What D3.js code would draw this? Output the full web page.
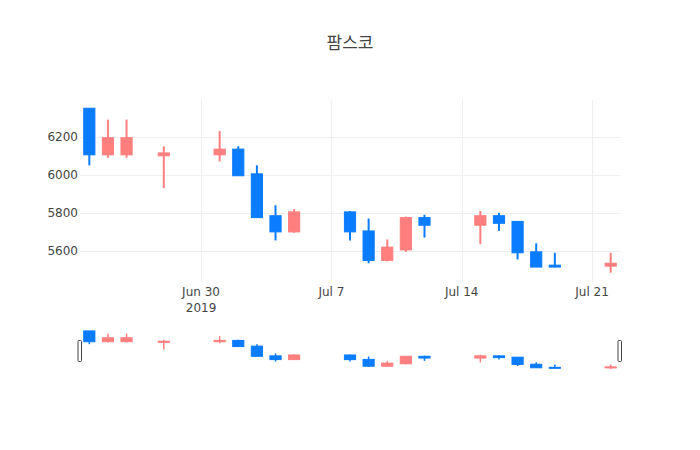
<!DOCTYPE html>
<meta charset="utf-8">
<style>
body { margin: 0; background: #fff; }
text {
  font-family: "DejaVu Sans", verdana, "Noto Sans CJK KR", arial, sans-serif;
  fill: #444;
}
.grid line { stroke: #eee; stroke-width: 1px; shape-rendering: crispEdges; }
</style>
<body>
<script src="https://d3js.org/d3.v7.min.js" charset="utf-8"></script>
<script>

// daily prices
var dates = ["2019-06-24", "2019-06-25", "2019-06-26", "2019-06-28", "2019-07-01",
             "2019-07-02", "2019-07-03", "2019-07-04", "2019-07-05", "2019-07-08",
             "2019-07-09", "2019-07-10", "2019-07-11", "2019-07-12", "2019-07-15",
             "2019-07-16", "2019-07-17", "2019-07-18", "2019-07-19", "2019-07-22"];
var opens  = [6350, 6105, 6105, 6100, 6105, 6135, 6005, 5785, 5700, 5805,
              5705, 5550, 5605, 5775, 5735, 5785, 5755, 5595, 5525, 5520];
var highs  = [6350, 6290, 6290, 6150, 6230, 6150, 6050, 5840, 5820, 5810,
              5770, 5660, 5780, 5790, 5810, 5800, 5755, 5640, 5590, 5590];
var lows   = [6050, 6090, 6090, 5930, 6070, 5995, 5775, 5655, 5695, 5655,
              5535, 5545, 5595, 5670, 5635, 5705, 5555, 5515, 5515, 5485];
var closes = [6105, 6195, 6195, 6115, 6135, 5995, 5775, 5700, 5805, 5700,
              5550, 5620, 5775, 5735, 5785, 5745, 5590, 5515, 5515, 5535];

var xTickDates = ["2019-06-30", "2019-07-07", "2019-07-14", "2019-07-21"];
var xTickLabels = [["Jun 30", "2019"], ["Jul 7"], ["Jul 14"], ["Jul 21"]];
var yTicks = [5600, 5800, 6000, 6200];
var title = "팜스코";

var incColor = "#ff7f7f",
    decColor = "#0a7cff";

var width = 700,
    height = 450;
var plot = { left: 80, right: 620, top: 100, bottom: 281 };
var slider = { top: 329, bottom: 371 };

var parse = d3.utcParse("%Y-%m-%d");
var DAY = 864e5;

var candles = dates.map((d, i) => ({
  date: parse(d), open: opens[i], high: highs[i], low: lows[i], close: closes[i]
}));

var svg = d3.select("body").append("svg")
    .attr("width", width)
    .attr("height", height);

// x domain padded by half a day each side, like plotly does for candlesticks
var xExt = d3.extent(candles, d => d.date);
var x = d3.scaleUtc()
    .domain([new Date(+xExt[0] - DAY / 2), new Date(+xExt[1] + DAY / 2)])
    .range([plot.left, plot.right]);

var lo = d3.min(lows), hi = d3.max(highs), pad = (hi - lo) * 0.05;
var y = d3.scaleLinear()
    .domain([lo - pad, hi + pad])
    .range([plot.bottom, plot.top]);

var ySl = d3.scaleLinear()
    .domain([lo - pad, hi + pad])
    .range([slider.bottom, slider.top]);

// gridlines
var grid = svg.append("g").attr("class", "grid");
grid.selectAll("line.h")
    .data(yTicks)
  .enter()
    .append("line")
    .attr("class", "h")
    .attr("x1", plot.left).attr("x2", plot.right)
    .attr("y1", d => Math.round(y(d)) + 0.5)
    .attr("y2", d => Math.round(y(d)) + 0.5);
grid.selectAll("line.v")
    .data(xTickDates.map(parse))
  .enter()
    .append("line")
    .attr("class", "v")
    .attr("y1", plot.top).attr("y2", plot.bottom)
    .attr("x1", d => Math.round(x(d)) + 0.5)
    .attr("x2", d => Math.round(x(d)) + 0.5);

// y tick labels
svg.append("g").selectAll("text")
    .data(yTicks)
  .enter()
    .append("text")
    .attr("x", plot.left - 2)
    .attr("y", d => y(d))
    .attr("dy", "0.35em")
    .attr("text-anchor", "end")
    .style("font-size", "12px")
    .text(d => d);

// x tick labels (first one carries the year on a second line)
var xlab = svg.append("g").selectAll("text")
    .data(xTickDates.map((d, i) => ({ date: parse(d), lines: xTickLabels[i] })))
  .enter()
    .append("text")
    .attr("text-anchor", "middle")
    .style("font-size", "12px")
    .attr("transform", d => `translate(${x(d.date)},296)`);
xlab.selectAll("tspan")
    .data(d => d.lines)
  .enter()
    .append("tspan")
    .attr("x", 0)
    .attr("y", (d, i) => i * 15.6)
    .text(d => d);

function drawCandles(g, yScale, wick) {
  var bw = x(new Date(DAY * 0.6)) - x(new Date(0));
  var c = g.selectAll("g")
      .data(candles)
    .enter()
      .append("g")
      .attr("fill", d => d.close >= d.open ? incColor : decColor)
      .attr("stroke", d => d.close >= d.open ? incColor : decColor);
  c.append("line")
      .attr("x1", d => x(d.date)).attr("x2", d => x(d.date))
      .attr("y1", d => yScale(d.high))
      .attr("y2", d => yScale(d.low))
      .attr("stroke-width", wick);
  c.append("rect")
      .attr("x", d => x(d.date) - bw / 2)
      .attr("width", bw)
      .attr("y", d => yScale(Math.max(d.open, d.close)))
      .attr("height", d => Math.max(1, Math.abs(yScale(d.open) - yScale(d.close))))
      .attr("stroke-width", 1);
}

svg.append("clipPath").attr("id", "clip-main")
  .append("rect")
    .attr("x", plot.left).attr("y", plot.top)
    .attr("width", plot.right - plot.left)
    .attr("height", plot.bottom - plot.top);

drawCandles(svg.append("g").attr("clip-path", "url(#clip-main)"), y, 2);

// range slider below the axis
svg.append("rect")
    .attr("x", plot.left).attr("y", slider.top)
    .attr("width", plot.right - plot.left)
    .attr("height", slider.bottom - slider.top)
    .attr("fill", "#fff");
drawCandles(svg.append("g"), ySl, 1.5);

var sh = slider.bottom - slider.top;
svg.append("g").selectAll("rect")
    .data([plot.left, plot.right])
  .enter()
    .append("rect")
    .attr("x", d => d - 2)
    .attr("y", slider.top + Math.round(sh / 4) + 0.5)
    .attr("width", 3.5)
    .attr("height", Math.round(sh / 2))
    .attr("rx", 1)
    .attr("fill", "#fff")
    .attr("stroke", "#444")
    .attr("stroke-width", 1);

// title
svg.append("text")
    .attr("x", width / 2)
    .attr("y", 49)
    .attr("text-anchor", "middle")
    .style("font-size", "17px")
    .text(title);

</script>
